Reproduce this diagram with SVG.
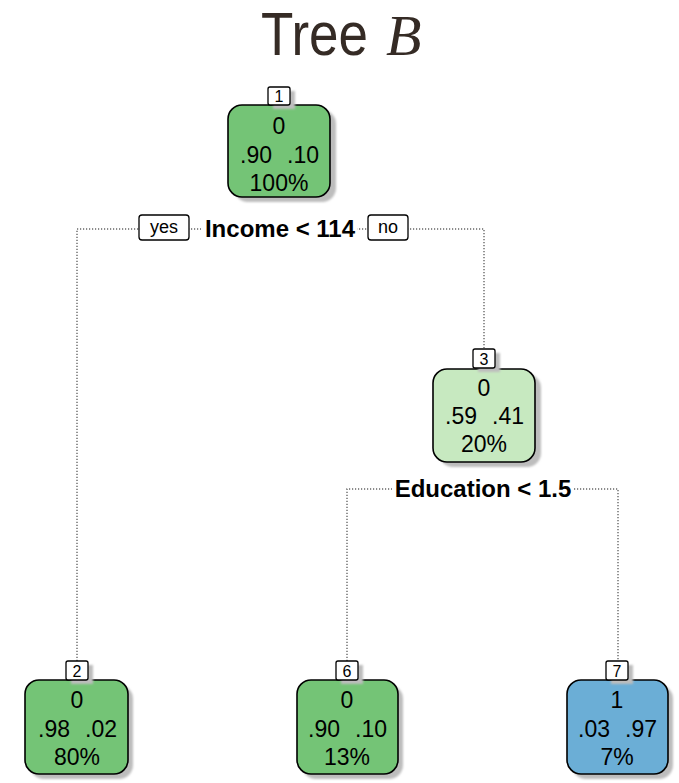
<svg xmlns="http://www.w3.org/2000/svg" width="679" height="783" viewBox="0 0 679 783">
<defs>
<filter id="sh" x="-10%" y="-10%" width="130%" height="130%"><feGaussianBlur stdDeviation="1.2"/></filter>
</defs>
<style>
.bx{stroke:#000;stroke-width:1.6}
.shd{fill:#bdbdbd;filter:url(#sh)}
.t{font-family:"Liberation Sans",Arial,sans-serif;font-size:23px;fill:#000;text-anchor:middle}
.num{fill:#fff;stroke:#000;stroke-width:1.3}
.nt{font-family:"Liberation Sans",Arial,sans-serif;font-size:16px;fill:#000;text-anchor:middle}
.sp{font-family:"Liberation Sans",Arial,sans-serif;font-size:24px;font-weight:bold;fill:#000;text-anchor:middle}
.yn{font-family:"Liberation Sans",Arial,sans-serif;font-size:18px;fill:#000;text-anchor:middle}
.dot{fill:none;stroke:#666;stroke-width:1.4;stroke-dasharray:1.2 1.8}
</style>
<rect width="679" height="783" fill="#fff"/>
<g id="title">
<text x="261" y="55" font-family="Liberation Sans,Arial,sans-serif" font-size="62" fill="#352b25" textLength="107" lengthAdjust="spacingAndGlyphs">Tree</text>
<text x="386" y="55" font-family="Liberation Serif,Times New Roman,serif" font-style="italic" font-size="58" fill="#352b25">B</text>
</g>
<g id="connectors">
<path class="dot" d="M77,661 V229 H484 V348"/>
<path class="dot" d="M347,661 V489 H618 V661"/>
</g>
<g id="split1">
<rect x="201" y="216" width="156" height="26" fill="#fff"/>
<text class="sp" x="280" y="237">Income &lt; 114</text>
<rect x="139" y="215" width="50" height="25" rx="3" class="num"/>
<text class="yn" x="164" y="233">yes</text>
<rect x="368" y="215" width="40" height="25" rx="3" class="num"/>
<text class="yn" x="388" y="233">no</text>
</g>
<g id="split3">
<rect x="392" y="477" width="182" height="26" fill="#fff"/>
<text class="sp" x="483" y="497">Education &lt; 1.5</text>
</g>
<g id="node1">
<rect class="shd" x="234" y="110" width="102" height="92" rx="14"/>
<rect class="bx" x="228" y="105" width="102" height="92" rx="14" fill="#74c476"/>
<rect class="shd" x="273" y="91" width="22" height="18"/>
<rect class="num" x="268" y="87" width="22" height="18" rx="2"/>
<text class="nt" x="279" y="102">1</text>
<text class="t" x="279" y="134">0</text>
<text class="t" x="256" y="163">.90</text>
<text class="t" x="303" y="163">.10</text>
<text class="t" x="279" y="191">100%</text>
</g>
<g id="node3">
<rect class="shd" x="439" y="374" width="102" height="93" rx="14"/>
<rect class="bx" x="433" y="369" width="102" height="93" rx="14" fill="#c7e9c0"/>
<rect class="shd" x="478" y="353" width="22" height="19"/>
<rect class="num" x="473" y="349" width="22" height="19" rx="2"/>
<text class="nt" x="484" y="365">3</text>
<text class="t" x="484" y="396">0</text>
<text class="t" x="461" y="424">.59</text>
<text class="t" x="508" y="424">.41</text>
<text class="t" x="484" y="452">20%</text>
</g>
<g id="node2">
<rect class="shd" x="30" y="685" width="103" height="94" rx="14"/>
<rect class="bx" x="25" y="680" width="103" height="94" rx="14" fill="#74c476"/>
<rect class="shd" x="71" y="665" width="22" height="19"/>
<rect class="num" x="66" y="661" width="22" height="19" rx="2"/>
<text class="nt" x="77" y="677">2</text>
<text class="t" x="77" y="708">0</text>
<text class="t" x="54" y="737">.98</text>
<text class="t" x="101" y="737">.02</text>
<text class="t" x="77" y="765">80%</text>
</g>
<g id="node6">
<rect class="shd" x="302" y="685" width="101" height="94" rx="14"/>
<rect class="bx" x="297" y="680" width="101" height="94" rx="14" fill="#74c476"/>
<rect class="shd" x="341" y="665" width="22" height="19"/>
<rect class="num" x="336" y="661" width="22" height="19" rx="2"/>
<text class="nt" x="347" y="677">6</text>
<text class="t" x="347" y="708">0</text>
<text class="t" x="324" y="737">.90</text>
<text class="t" x="371" y="737">.10</text>
<text class="t" x="347" y="765">13%</text>
</g>
<g id="node7">
<rect class="shd" x="572" y="685" width="101" height="94" rx="14"/>
<rect class="bx" x="567" y="680" width="101" height="94" rx="14" fill="#6baed6"/>
<rect class="shd" x="611" y="665" width="22" height="19"/>
<rect class="num" x="606" y="661" width="22" height="19" rx="2"/>
<text class="nt" x="617" y="677">7</text>
<text class="t" x="617" y="708">1</text>
<text class="t" x="594" y="737">.03</text>
<text class="t" x="641" y="737">.97</text>
<text class="t" x="617" y="765">7%</text>
</g>
</svg>
